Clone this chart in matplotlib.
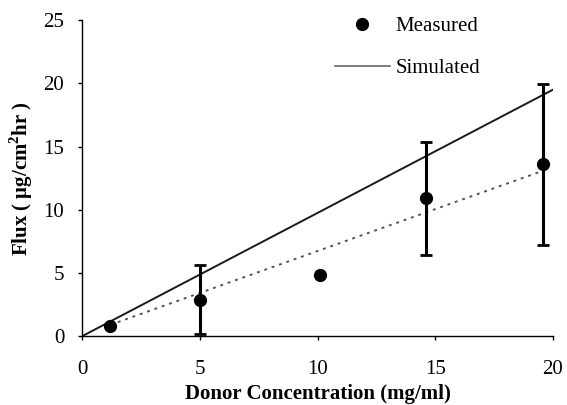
import matplotlib
matplotlib.use("Agg")
import matplotlib.pyplot as plt
from matplotlib.lines import Line2D

plt.rcParams["font.family"] = ["Liberation Serif", "DejaVu Serif"]
plt.rcParams["mathtext.fontset"] = "custom"
plt.rcParams["mathtext.rm"] = "Liberation Serif"
plt.rcParams["mathtext.bf"] = "Liberation Serif:bold"

# measured flux with error bars
conc = [1.2, 5.0, 10.1, 14.6, 19.6]
flux = [0.8, 2.9, 4.8, 10.9, 13.6]
flux_err = [0.0, 2.7, 0.0, 4.45, 6.35]

# straight line through origin and the simulated (dotted) line
line_x = [0.0, 20.0]
line_y = [0.0, 19.5]
sim_x = [1.2, 19.6]
sim_y = [0.9, 13.1]

x_ticks = [0, 5, 10, 15, 20]
y_ticks = [0, 5, 10, 15, 20, 25]

fig = plt.figure(figsize=(5.67, 4.05), dpi=100)
ax = fig.add_axes([0.145, 0.170, 0.830, 0.780])

ax.plot(line_x, line_y, color="#1a1a1a", lw=1.4, zorder=2)
ax.plot(sim_x, sim_y, color="#555555", lw=1.4, linestyle=(0, (1.5, 2.5)), zorder=2)
ax.errorbar(conc, flux, yerr=flux_err, fmt="o", color="black", ms=8.5,
            elinewidth=2.2, capsize=4.5, capthick=2, zorder=3)

ax.set_xlim(0, 20)
ax.set_ylim(0, 25)
ax.set_xticks(x_ticks)
ax.set_yticks(y_ticks)
ax.tick_params(labelsize=15, length=3, width=1, direction="out")
ax.tick_params(axis="x", pad=14)
ax.tick_params(axis="y", pad=10)
for s in ["top", "right"]:
    ax.spines[s].set_visible(False)
for s in ["left", "bottom"]:
    ax.spines[s].set_linewidth(1)

ax.set_xlabel("Donor Concentration (mg/ml)", fontsize=15, fontweight="bold", labelpad=4)
ax.set_ylabel(r"Flux ( μg/cm$^{\mathbf{2}}$hr )", fontsize=15, fontweight="bold", labelpad=6)

handles = [
    Line2D([], [], marker="o", color="black", ls="none", ms=8.5),
    Line2D([], [], color="#666666", lw=1.2),
]
ax.legend(handles, ["Measured", "Simulated"], loc="upper left",
          bbox_to_anchor=(0.497, 1.072), frameon=False, fontsize=15,
          handlelength=2.65, labelspacing=1.1, handletextpad=0.25)

fig.savefig("out.png", dpi=100)
